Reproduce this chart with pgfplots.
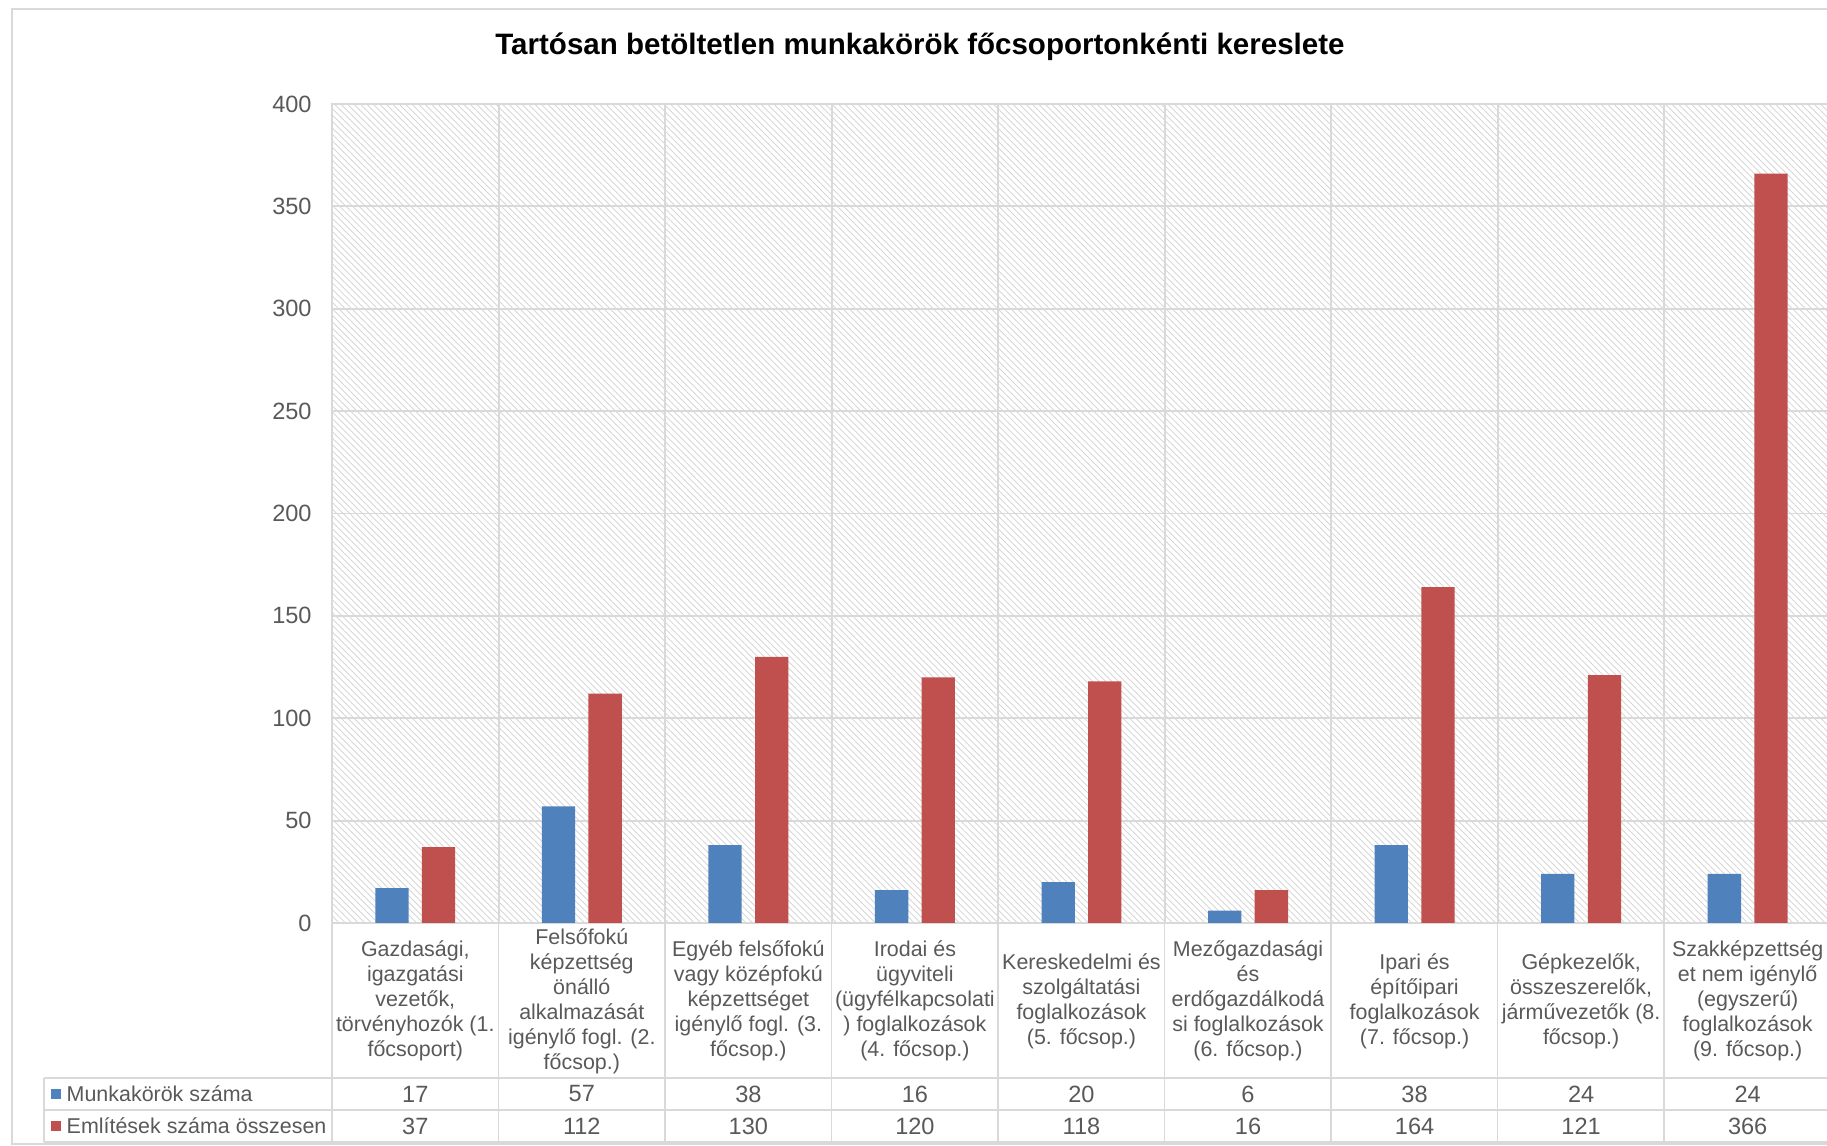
\documentclass[border=0pt]{standalone}
\usepackage{pgfplots}
\pgfplotsset{compat=1.18}
\usepackage{pgfplotstable}
\usetikzlibrary{patterns.meta}
\usepackage{fontspec}
\setmainfont{Liberation Sans}

\definecolor{barblue}{HTML}{4F81BD}
\definecolor{barred}{HTML}{C0504D}
\definecolor{txtgray}{HTML}{595959}
\definecolor{gridgray}{HTML}{D9D9D9}
\definecolor{hatch}{HTML}{D6D6D6}

% munka = Munkakörök száma, emlites = Említések száma összesen
\pgfplotstableread{
x munka emlites
0 17 37
1 57 112
2 38 130
3 16 120
4 20 118
5 6 16
6 38 164
7 24 121
8 24 366
}\data

\newcommand\lblfont{\fontsize{6.1}{7.1}\selectfont}
\newcommand\tickfont{\fontsize{6.7}{7.2}\selectfont}

\begin{document}
\begin{tikzpicture}
\begin{axis}[
  at={(33.2mm,-92.3mm)}, anchor=south west,
  scale only axis, width=149.9mm, height=81.9mm,
  xmin=-0.5, xmax=8.5, ymin=0, ymax=400,
  ytick={0,50,...,400},
  xtick={0,...,8},
  xticklabels={
    {Gazdasági,\\igazgatási\\vezetők,\\törvényhozók (1.\\főcsoport)},
    {Felsőfokú\\képzettség\\önálló\\alkalmazását\\igénylő fogl. (2.\\főcsop.)},
    {Egyéb felsőfokú\\vagy középfokú\\képzettséget\\igénylő fogl. (3.\\főcsop.)},
    {Irodai és\\ügyviteli\\(ügyfélkapcsolati\\) foglalkozások\\(4. főcsop.)},
    {Kereskedelmi és\\szolgáltatási\\foglalkozások\\(5. főcsop.)},
    {Mezőgazdasági\\és\\erdőgazdálkodá\\si foglalkozások\\(6. főcsop.)},
    {Ipari és\\építőipari\\foglalkozások\\(7. főcsop.)},
    {Gépkezelők,\\összeszerelők,\\járművezetők (8.\\főcsop.)},
    {Szakképzettség\\et nem igénylő\\(egyszerű)\\foglalkozások\\(9. főcsop.)}
  },
  minor xtick={-0.5,0.5,...,8.5},
  xminorgrids, ymajorgrids,
  major tick length=0, minor tick length=0,
  grid style={draw=gridgray, line width=0.55pt},
  minor grid style={draw=gridgray, line width=0.55pt},
  axis line style={draw=gridgray, line width=0.55pt},
  axis background/.style={pattern={Lines[angle=-45,distance=1.3pt,line width=0.25pt]}, pattern color=hatch},
  clip=false,
  tick label style={text=txtgray},
  yticklabel style={font=\tickfont, xshift=-0.8mm},
  xticklabel style={font=\lblfont, align=center, anchor=center, yshift=-7.8mm},
  /pgf/number format/assume math mode=true,
]
\addplot[ybar, bar width=0.2, bar shift=-0.14, fill=barblue, draw=none] table[x=x, y=munka] {\data};
\addplot[ybar, bar width=0.2, bar shift=0.14, fill=barred, draw=none] table[x=x, y=emlites] {\data};
% table rows under the categories
\addplot[draw=none, point meta=explicit, nodes near coords,
  nodes near coords style={anchor=center, yshift=-17.1mm, font=\tickfont, text=txtgray}]
  table[x=x, y expr=0, meta=munka] {\data};
\addplot[draw=none, point meta=explicit, nodes near coords,
  nodes near coords style={anchor=center, yshift=-20.3mm, font=\tickfont, text=txtgray}]
  table[x=x, y expr=0, meta=emlites] {\data};
\end{axis}

\begin{scope}[x=0.1mm, y=-0.1mm]
  \draw[gridgray, line width=0.55pt] (44,1078) -- (1850,1078) (44,1110) -- (1850,1110)
    (44,1142) -- (1850,1142) (44,1078) -- (44,1142);
  \foreach \k in {0,...,9}
    \draw[gridgray, line width=0.55pt] ({332+166.5*\k},923) -- ({332+166.5*\k},1142);
  \fill[barblue] (51,1089) rectangle (61,1099);
  \node[anchor=west, inner sep=0pt, font=\lblfont, text=txtgray] at (66,1094) {Munkakörök száma};
  \fill[barred] (51,1121) rectangle (61,1131);
  \node[anchor=west, inner sep=0pt, font=\lblfont, text=txtgray] at (66,1126) {Említések száma összesen};
  \node[font=\fontsize{8.4}{9.5}\selectfont\bfseries] at (920,47) {Tartósan betöltetlen munkakörök főcsoportonkénti kereslete};
  \draw[gridgray, line width=0.5pt] (1850,9) -- (12,9) -- (12,1144) -- (1850,1144);
  \pgfresetboundingbox
  \path[use as bounding box] (0,0) rectangle (1827,1146);
\end{scope}
\end{tikzpicture}
\end{document}
